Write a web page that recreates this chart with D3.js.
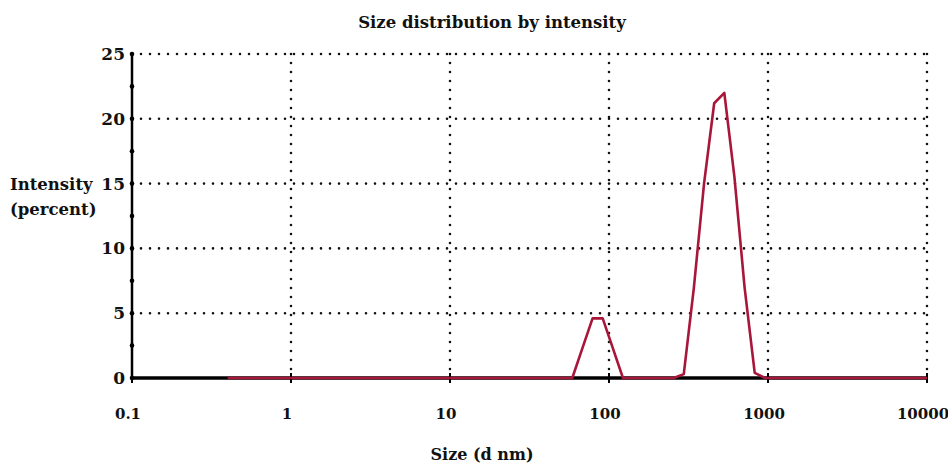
<!DOCTYPE html>
<html>
<head>
<meta charset="utf-8">
<script src="https://cdn.jsdelivr.net/npm/d3@7"></script>
<style>
  body { margin: 0; background: #fff; }
  svg text { font-family: "DejaVu Serif", "Liberation Serif", serif; font-weight: bold; fill: #111; }
</style>
</head>
<body>
<div id="chart"></div>
<script>
// size classes (d nm) used by the instrument, 0.4 .. 10000
const sizes = [0.4, 0.4632, 0.5365, 0.6213, 0.7195, 0.8332, 0.9649, 1.117, 1.294, 1.499,
    1.736, 2.01, 2.328, 2.696, 3.122, 3.615, 4.187, 4.849, 5.615, 6.503,
    7.531, 8.721, 10.1, 11.7, 13.54, 15.69, 18.17, 21.04, 24.36, 28.21,
    32.67, 37.84, 43.82, 50.75, 58.77, 68.06, 78.82, 91.28, 105.7, 122.4,
    141.8, 164.2, 190.1, 220.2, 255, 295.3, 342, 396.1, 458.7, 531.2,
    615.1, 712.4, 825, 955.4, 1106, 1281, 1484, 1718, 1990, 2305,
    2669, 3091, 3580, 4145, 4801, 5560, 6439, 7456, 8635, 10000];

// intensity (percent) per size class
const intensity = [0, 0, 0, 0, 0, 0, 0, 0, 0, 0,
    0, 0, 0, 0, 0, 0, 0, 0, 0, 0,
    0, 0, 0, 0, 0, 0, 0, 0, 0, 0,
    0, 0, 0, 0, 0, 2.3, 4.6, 4.6, 2.3, 0,
    0, 0, 0, 0, 0, 0.3, 7.0, 15.0, 21.2, 22.0,
    15.5, 7.0, 0.4, 0, 0, 0, 0, 0, 0, 0,
    0, 0, 0, 0, 0, 0, 0, 0, 0, 0];

const xTicks = [0.1, 1, 10, 100, 1000, 10000];
const xTickLabels = ["0.1", "1", "10", "100", "1000", "10000"];
const yTicks = [0, 5, 10, 15, 20, 25];
const yMinor = [2.5, 7.5, 12.5, 17.5, 22.5];

const width = 948, height = 464;
const margin = { top: 54, right: 21, bottom: 86, left: 132 };
const w = width - margin.left - margin.right;
const h = height - margin.top - margin.bottom;

const x = d3.scaleLog().domain([0.1, 10000]).range([0, w]);
const y = d3.scaleLinear().domain([0, 25]).range([h, 0]);

const svg = d3.select("#chart").append("svg")
    .attr("width", width).attr("height", height);

const g = svg.append("g").attr("transform", "translate(" + margin.left + "," + margin.top + ")");

// dotted grid
const dots = { stroke: "#111", width: 2.6, dash: "0,9" };
g.selectAll(".hgrid").data(yTicks.filter(d => d > 0)).enter().append("line")
    .attr("x1", 0).attr("x2", w)
    .attr("y1", d => y(d)).attr("y2", d => y(d))
    .attr("stroke", dots.stroke).attr("stroke-width", dots.width)
    .attr("stroke-dasharray", dots.dash).attr("stroke-linecap", "round");

g.selectAll(".vgrid").data(xTicks.filter(d => d > 0.1)).enter().append("line")
    .attr("x1", d => x(d)).attr("x2", d => x(d))
    .attr("y1", 0).attr("y2", h)
    .attr("stroke", dots.stroke).attr("stroke-width", dots.width)
    .attr("stroke-dasharray", dots.dash).attr("stroke-linecap", "round");

// y axis: solid line, dot marks at ticks
g.append("line").attr("x1", 0).attr("x2", 0).attr("y1", 0).attr("y2", h)
    .attr("stroke", "#000").attr("stroke-width", 2.5);
g.selectAll(".ymin").data(yTicks.concat(yMinor)).enter().append("circle")
    .attr("cx", 0).attr("cy", d => y(d)).attr("r", 2.3).attr("fill", "#000");

// y tick labels
g.selectAll(".ylab").data(yTicks).enter().append("text")
    .attr("x", -7).attr("y", d => y(d)).attr("dy", "0.35em")
    .attr("text-anchor", "end").attr("font-size", 17)
    .text(d => d);

// x axis baseline
g.append("line").attr("x1", 0).attr("x2", w).attr("y1", h).attr("y2", h)
    .attr("stroke", "#000").attr("stroke-width", 3.5);
g.selectAll(".xtk").data(xTicks).enter().append("line")
    .attr("x1", d => x(d)).attr("x2", d => x(d))
    .attr("y1", h - 5).attr("y2", h + 5)
    .attr("stroke", "#000").attr("stroke-width", 2);

// x tick labels
g.selectAll(".xlab").data(xTicks).enter().append("text")
    .attr("x", d => x(d) - 4).attr("y", h + 41)
    .attr("text-anchor", "middle").attr("font-size", 15)
    .text((d, i) => xTickLabels[i]);

// distribution line
const dist = sizes.map((s, i) => ({ size: s, value: intensity[i] }));
const line = d3.line().x(d => x(d.size)).y(d => y(d.value));
g.append("path").datum(dist)
    .attr("d", line)
    .attr("fill", "none")
    .attr("stroke", "#a8163a")
    .attr("stroke-width", 2.6)
    .attr("stroke-linejoin", "round");

// titles
svg.append("text").attr("x", 492).attr("y", 28)
    .attr("text-anchor", "middle").attr("font-size", 16.5)
    .text("Size distribution by intensity");

svg.append("text").attr("x", 10).attr("y", 190).attr("font-size", 16.5).text("Intensity");
svg.append("text").attr("x", 10).attr("y", 215).attr("font-size", 16.5).text("(percent)");

svg.append("text").attr("x", 482).attr("y", 460)
    .attr("text-anchor", "middle").attr("font-size", 16)
    .text("Size (d nm)");
</script>
</body>
</html>
